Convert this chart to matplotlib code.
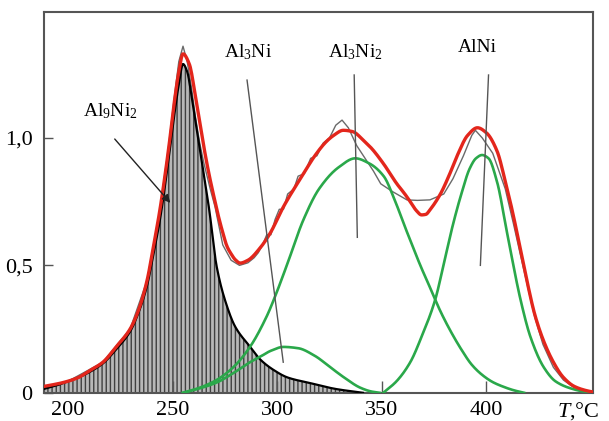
import numpy as np
import matplotlib
matplotlib.use("Agg")
import matplotlib.pyplot as plt

# DSC-like curve decomposition
# Al9Ni2 component (black, hatched)
black_T = [188.5, 195, 200, 205, 210, 216.7, 223, 229.7, 234, 237.8, 241, 244, 248,
           251, 253, 255, 257, 259, 262, 264.5, 267.5, 271.1, 276, 279.9, 287.1, 292,
           298.2, 305, 315.8, 328, 341]
black_y = [0.015, 0.03, 0.045, 0.06, 0.08, 0.115, 0.17, 0.24, 0.32, 0.42, 0.55, 0.68,
           0.91, 1.1, 1.21, 1.29, 1.26, 1.17, 1.01, 0.88, 0.72, 0.495, 0.34, 0.26,
           0.18, 0.13, 0.09, 0.06, 0.038, 0.015, 0.0]

# Al3Ni component
al3ni_T = [255, 262, 271, 279, 287, 292, 297, 303, 310, 318, 325.4, 332, 339.7, 345, 349]
al3ni_y = [0.0, 0.015, 0.04, 0.077, 0.12, 0.142, 0.165, 0.18, 0.175, 0.145, 0.10,
           0.06, 0.02, 0.005, 0.0]

# Al3Ni2 component
al3ni2_T = [255, 263, 271, 279, 287, 295, 299, 304.6, 312.6, 320, 329.4, 337.3, 344,
            350.9, 356, 360.4, 364, 368.4, 373.2, 378, 383, 388, 393, 398, 403, 408,
            413, 418]
al3ni2_y = [0.0, 0.02, 0.05, 0.1, 0.18, 0.3, 0.378, 0.50, 0.68, 0.80, 0.885, 0.92, 0.90,
            0.85, 0.76, 0.665, 0.59, 0.50, 0.41, 0.32, 0.24, 0.17, 0.11, 0.07, 0.042,
            0.024, 0.01, 0.0]

# AlNi component
alni_T = [350.7, 357, 363.6, 369, 375.5, 380, 384, 388, 392, 395, 397.9, 401, 405,
          409.9, 416.3, 421, 427.4, 433, 440, 446, 451]
alni_y = [0.0, 0.045, 0.12, 0.22, 0.365, 0.52, 0.66, 0.78, 0.88, 0.92, 0.933, 0.92,
          0.83, 0.626, 0.365, 0.22, 0.10, 0.045, 0.018, 0.006, 0.002]

# fitted sum (red)
fit_T = [188.5, 197.6, 205, 210, 216.7, 223, 229.7, 234, 237.8, 241, 244, 248, 251,
         253, 255, 258, 261, 264, 267, 270.3, 272, 274.3, 276, 278, 280, 282.3, 286,
         292, 296.7, 303, 312.6, 318, 323.4, 327, 331.6, 336, 341.3, 345, 350.7, 357.2,
         361, 364, 366.5, 369, 371, 373.2, 378, 382, 386, 391, 395.7, 400, 405, 409,
         413, 416, 419.6, 423, 427, 432, 436.8, 442, 448, 451]
fit_y = [0.025, 0.04, 0.06, 0.085, 0.12, 0.18, 0.25, 0.33, 0.44, 0.58, 0.72, 0.95, 1.15,
         1.26, 1.33, 1.29, 1.16, 1.01, 0.875, 0.75, 0.69, 0.62, 0.575, 0.545, 0.522,
         0.509, 0.52, 0.57, 0.627, 0.73, 0.86, 0.93, 0.985, 1.01, 1.03, 1.025, 0.99,
         0.96, 0.90, 0.82, 0.78, 0.745, 0.715, 0.698, 0.70, 0.72, 0.78, 0.85, 0.93, 1.01,
         1.04, 1.02, 0.95, 0.83, 0.69, 0.57, 0.43, 0.31, 0.21, 0.12, 0.06, 0.025, 0.008,
         0.003]

# measured curve (thin grey)
exp_T = [188.5, 200, 216.7, 229.7, 237.8, 244, 248, 251, 253, 255, 257, 259, 261, 263,
         265, 268, 270.3, 274, 278, 282, 286, 289, 291, 293, 295, 297, 299, 301, 303,
         305, 308, 310, 313, 316, 319, 322, 325, 328, 331, 334, 338, 342, 346, 349.5,
         355, 362, 367, 373, 379.6, 384, 389, 393, 394.7, 398, 403, 409, 413, 416,
         419.6, 423, 427, 432, 436.8, 442, 448, 451]
exp_y = [0.02, 0.045, 0.12, 0.25, 0.44, 0.72, 0.96, 1.17, 1.3, 1.36, 1.3, 1.2, 1.08,
         0.98, 0.9, 0.8, 0.73, 0.58, 0.52, 0.5, 0.51, 0.53, 0.55, 0.58, 0.62, 0.62,
         0.68, 0.72, 0.72, 0.78, 0.80, 0.85, 0.86, 0.92, 0.93, 0.98, 1.0, 1.05, 1.07,
         1.04, 0.97, 0.92, 0.87, 0.82, 0.79, 0.757, 0.755, 0.757, 0.78, 0.84, 0.93,
         1.01, 1.03, 1.0, 0.94, 0.80, 0.66, 0.55, 0.42, 0.30, 0.19, 0.10, 0.05, 0.02,
         0.007, 0.003]

xticks = [200, 250, 300, 350, 400]
yticks = [0, 0.5, 1.0]
ytick_labels = ["0", "0,5", "1,0"]


def smooth(x, y, n=800):
    # monotone cubic (pchip) so the read-off points are joined without kinks
    x = np.asarray(x, float)
    y = np.asarray(y, float)
    h = np.diff(x)
    d = np.diff(y) / h
    m = np.zeros_like(y)
    for k in range(1, len(x) - 1):
        if d[k - 1] * d[k] > 0:
            w1 = 2 * h[k] + h[k - 1]
            w2 = h[k] + 2 * h[k - 1]
            m[k] = (w1 + w2) / (w1 / d[k - 1] + w2 / d[k])
    m[0] = d[0]
    m[-1] = d[-1]
    xs = np.linspace(x[0], x[-1], n)
    i = np.clip(np.searchsorted(x, xs) - 1, 0, len(h) - 1)
    t = (xs - x[i]) / h[i]
    h00 = 2 * t**3 - 3 * t**2 + 1
    h10 = t**3 - 2 * t**2 + t
    h01 = -2 * t**3 + 3 * t**2
    h11 = t**3 - t**2
    ys = h00 * y[i] + h10 * h[i] * m[i] + h01 * y[i + 1] + h11 * h[i] * m[i + 1]
    return xs, ys


plt.rcParams["font.family"] = "Liberation Serif"
plt.rcParams["mathtext.fontset"] = "custom"
plt.rcParams["mathtext.rm"] = "Liberation Serif"
plt.rcParams["mathtext.it"] = "Liberation Serif:italic"
plt.rcParams["hatch.linewidth"] = 1.0
plt.rcParams["hatch.color"] = "#404040"

fig = plt.figure(figsize=(6.09, 4.21), dpi=100)
ax = fig.add_axes([0.072, 0.067, 0.902, 0.905])

bx, by = smooth(black_T, black_y)
ax.fill_between(bx, by, 0, facecolor="#b8b8b8", edgecolor="#404040",
                hatch="||||", linewidth=0)
ax.plot(exp_T, exp_y, color="#6a6a6a", lw=1.0, zorder=3)
ax.plot(bx, by, color="black", lw=1.6, zorder=4)
for T, y in [(al3ni_T, al3ni_y), (al3ni2_T, al3ni2_y), (alni_T, alni_y)]:
    ax.plot(*smooth(T, y), color="#2aa84a", lw=1.9, zorder=4)
ax.plot(*smooth(fit_T, fit_y), color="#e3261c", lw=2.4, zorder=5)

# labels and leader lines
ax.text(220.1, 1.106, r"Al$_\mathregular{9}$Ni$_\mathregular{2}$", fontsize=14,
        ha="center", va="center")
ax.annotate("", xy=(249.8, 0.737), xytext=(221.5, 1.004),
            arrowprops=dict(arrowstyle="-|>", color="#222222", lw=1.0,
                            mutation_scale=12), zorder=6)

ax.text(286, 1.337, r"Al$_\mathregular{3}$Ni", fontsize=14, ha="center", va="center")
ax.plot([285.6, 302.9], [1.227, 0.12], color="#555555", lw=1.0, zorder=6)

ax.text(337.3, 1.337, r"Al$_\mathregular{3}$Ni$_\mathregular{2}$", fontsize=14,
        ha="center", va="center")
ax.plot([336.8, 338.3], [1.247, 0.61], color="#555555", lw=1.0, zorder=6)

ax.text(395.7, 1.353, "AlNi", fontsize=14, ha="center", va="center")
ax.plot([401, 397.1], [1.247, 0.50], color="#555555", lw=1.0, zorder=6)

ax.set_xlim(188.5, 451)
ax.set_ylim(0, 1.495)
ax.set_xticks(xticks)
ax.set_xticklabels([str(t) for t in xticks])
ax.set_yticks(yticks)
ax.set_yticklabels(ytick_labels)
ax.tick_params(axis="x", direction="in", length=8.5, width=1.0, color="#555555",
               labelsize=16, pad=6)
ax.tick_params(axis="y", direction="in", length=6.5, width=1.0, color="#555555",
               labelsize=16, pad=8)
for sp in ax.spines.values():
    sp.set_color("#555555")
    sp.set_linewidth(1.5)

ax.text(0.973, -0.02, r"$\mathit{T}$,°C", transform=ax.transAxes, fontsize=16,
        ha="center", va="top")

fig.savefig("out.png", dpi=100)
